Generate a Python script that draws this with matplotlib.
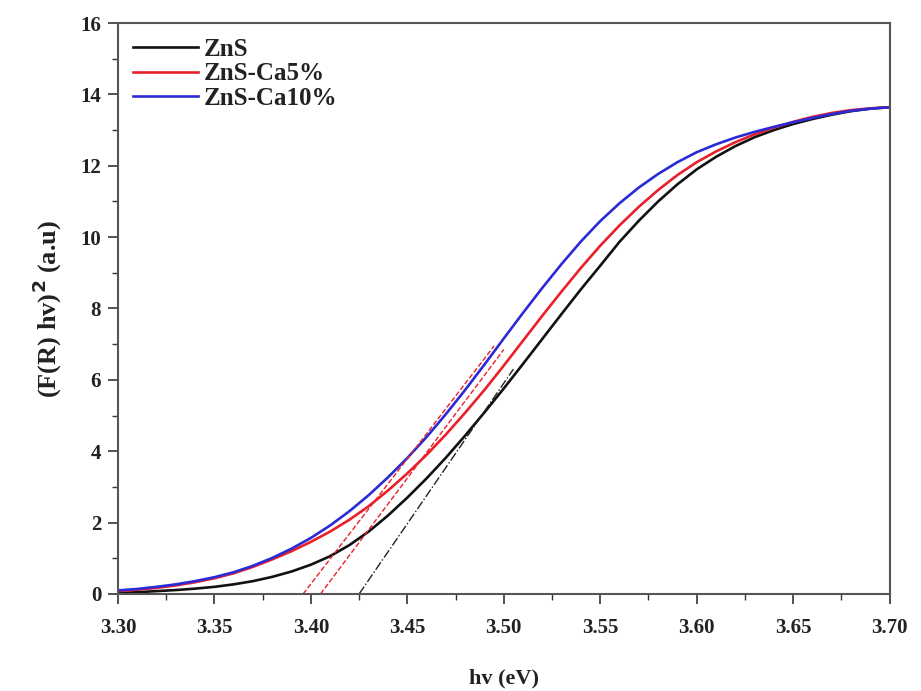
import matplotlib
matplotlib.use("Agg")
import matplotlib.pyplot as plt
from matplotlib.ticker import MultipleLocator, FormatStrFormatter

hv = [3.30, 3.31, 3.32, 3.33, 3.34, 3.35, 3.36, 3.37, 3.38, 3.39,
      3.40, 3.41, 3.42, 3.43, 3.44, 3.45, 3.46, 3.47, 3.48, 3.49,
      3.50, 3.51, 3.52, 3.53, 3.54, 3.55, 3.56, 3.57, 3.58, 3.59,
      3.60, 3.61, 3.62, 3.63, 3.64, 3.65, 3.66, 3.67, 3.68, 3.69, 3.70]

zns = [0.03, 0.05, 0.08, 0.11, 0.15, 0.20, 0.27, 0.36, 0.48, 0.63,
       0.82, 1.06, 1.37, 1.75, 2.20, 2.70, 3.24, 3.82, 4.44, 5.09,
       5.76, 6.45, 7.15, 7.85, 8.54, 9.20, 9.87, 10.46, 11.00, 11.48,
       11.90, 12.25, 12.55, 12.80, 13.00, 13.17, 13.31, 13.43, 13.53, 13.60, 13.64]

zns_ca5 = [0.08, 0.12, 0.17, 0.24, 0.33, 0.44, 0.58, 0.76, 0.97, 1.20,
           1.46, 1.75, 2.08, 2.46, 2.90, 3.38, 3.90, 4.47, 5.08, 5.72,
           6.40, 7.10, 7.80, 8.48, 9.14, 9.76, 10.33, 10.85, 11.32, 11.74,
           12.10, 12.40, 12.66, 12.88, 13.07, 13.23, 13.37, 13.48, 13.56, 13.61, 13.64]

zns_ca10 = [0.10, 0.14, 0.20, 0.27, 0.36, 0.47, 0.61, 0.79, 1.01, 1.27,
            1.57, 1.92, 2.32, 2.77, 3.27, 3.81, 4.40, 5.04, 5.72, 6.43,
            7.16, 7.88, 8.58, 9.25, 9.88, 10.45, 10.95, 11.39, 11.77, 12.10,
            12.38, 12.60, 12.79, 12.95, 13.09, 13.22, 13.34, 13.45, 13.54, 13.60, 13.64]

labels = ["ZnS", "ZnS-Ca5%", "ZnS-Ca10%"]
colors = ["#111111", "#e8202a", "#2b2bd6"]

# tangent (Tauc extrapolation) lines: x endpoints and y endpoints
tan_x = [[3.425, 3.505], [3.405, 3.50], [3.396, 3.495]]
tan_y = [[0.0, 6.3], [0.0, 6.85], [0.0, 6.95]]
tan_colors = ["#222222", "#e8202a", "#e8202a"]
tan_styles = ["-.", "--", "--"]

plt.rcParams['font.family'] = ['Liberation Serif', 'DejaVu Serif']
plt.rcParams['font.weight'] = 'bold'

fig = plt.figure(figsize=(9.21, 6.91), dpi=100)
ax = fig.add_axes([0.128, 0.1404, 0.838, 0.8263])

for y, lab, c in zip([zns, zns_ca5, zns_ca10], labels, colors):
    ax.plot(hv, y, color=c, lw=1.9, label=lab)

for tx, ty, c, ls in zip(tan_x, tan_y, tan_colors, tan_styles):
    ax.plot(tx, ty, color=c, lw=1.0, ls=ls)

ax.set_xlim(3.30, 3.70)
ax.set_ylim(0, 16)
ax.xaxis.set_major_locator(MultipleLocator(0.05))
ax.xaxis.set_minor_locator(MultipleLocator(0.025))
ax.yaxis.set_major_locator(MultipleLocator(2))
ax.yaxis.set_minor_locator(MultipleLocator(1))
ax.xaxis.set_major_formatter(FormatStrFormatter('%.2f'))
ax.tick_params(which='major', direction='out', length=7, width=1.2, labelsize=15,
               colors='#333333', labelcolor='#222222', pad=5)
ax.tick_params(axis='x', which='major', pad=10)
ax.tick_params(which='minor', direction='out', length=4, width=1.0, colors='#333333')
ax.tick_params(top=False, right=False, which='both')
for lab in ax.get_xticklabels() + ax.get_yticklabels():
    lab.set_fontweight('bold')
for s in ax.spines.values():
    s.set_color('#555555')
    s.set_linewidth(1.5)

ax.set_xlabel('hv (eV)', fontsize=16, fontweight='bold', labelpad=22, color='#222222')
ax.set_ylabel(r'(F(R) hv)$^{\mathbf{2}}$ (a.u)', fontsize=19, fontweight='bold', labelpad=12, color='#222222')

leg = ax.legend(loc='upper left', frameon=False, fontsize=18, handlelength=2.6,
                handletextpad=0.25, labelspacing=0.05, borderaxespad=0.2)
for t in leg.get_texts():
    t.set_fontweight('bold')
    t.set_color('#222222')

fig.savefig('out.png', dpi=100)
